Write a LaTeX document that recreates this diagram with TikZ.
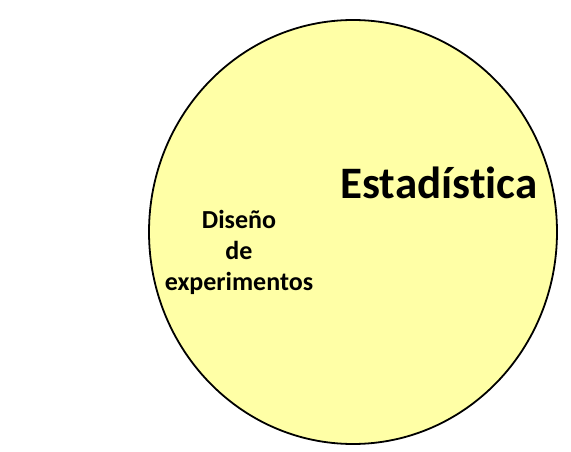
\documentclass[tikz,border=0pt]{standalone}
\usepackage{fontspec}
\setmainfont[Ligatures=NoCommon]{Carlito}
\usetikzlibrary{shapes.geometric, positioning}
\definecolor{statYellow}{RGB}{255,255,166}

\begin{document}
\begin{tikzpicture}[
  x=1pt, y=1pt,
  setbox/.style={ellipse, draw=black, line width=1.8pt, fill=statYellow,
    inner sep=0pt},
  biglbl/.style={font=\fontsize{45}{52}\selectfont\bfseries, inner sep=0pt},
  sublbl/.style={font=\fontsize{26}{31}\selectfont\bfseries, align=center,
    inner sep=0pt},
]
%% canvas: 571 x 452 (px as pt)
\useasboundingbox (0,0) rectangle (571,-452);

%% ── Outer set ───────────────────────────────────────────────────────────────
\node[setbox, minimum width=408pt, minimum height=424pt] (stat) at (353,-232) {};

%% ── Labels ──────────────────────────────────────────────────────────────────
\node[biglbl, anchor=base] (statlbl) at (439,-198) {Estadística};
\node[sublbl] (doe) at (239,-252) {Diseño\\de\\experimentos};

\end{tikzpicture}
\end{document}
